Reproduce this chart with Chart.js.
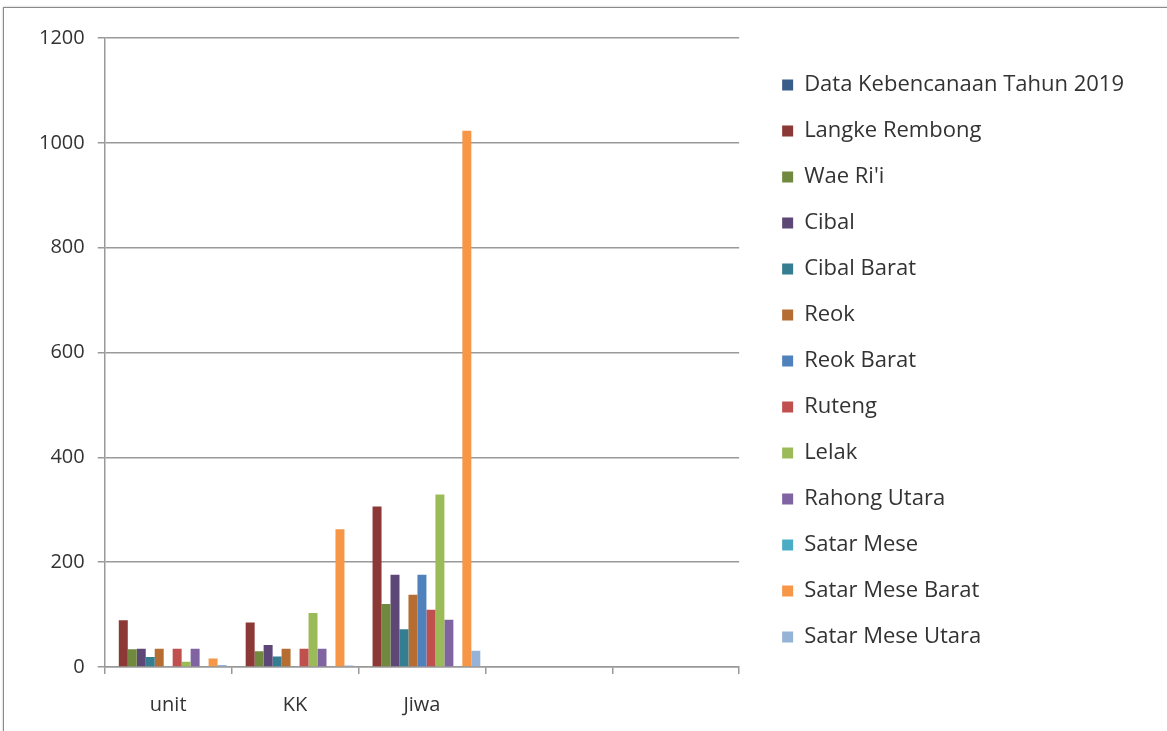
<!DOCTYPE html>
<html>
<head>
<meta charset="utf-8">
<script src="https://cdn.jsdelivr.net/npm/chart.js@4/dist/chart.umd.min.js"></script>
<style>
  html, body { margin: 0; padding: 0; background: #fff; }
  #frame { position: absolute; left: 3px; top: 7px; width: 1170px; height: 740px; border: 1px solid #8a8a8a; box-shadow: 0 0 2px #bbb; }
  #chart { position: absolute; left: 0; top: 0; }
</style>
</head>
<body>
<div id="frame"></div>
<canvas id="chart" width="1167" height="731"></canvas>
<script>
// kategori sumbu x (dua kategori terakhir kosong seperti di Excel)
const categories = ['unit', 'KK', 'Jiwa', '', ''];
const yTicks = [0, 200, 400, 600, 800, 1000, 1200];

const seriesNames = [
    'Data Kebencanaan Tahun 2019', 'Langke Rembong', "Wae Ri'i", 'Cibal', 'Cibal Barat',
    'Reok', 'Reok Barat', 'Ruteng', 'Lelak', 'Rahong Utara', 'Satar Mese',
    'Satar Mese Barat', 'Satar Mese Utara'
];

const dataKebencanaan = [0, 0, 0];
const langkeRembong = [89, 85, 306];
const waeRii = [34, 30, 120];
const cibal = [35, 42, 176];
const cibalBarat = [19, 20, 72];
const reok = [35, 35, 138];
const reokBarat = [0, 0, 176];
const ruteng = [35, 35, 109];
const lelak = [10, 103, 329];
const rahongUtara = [35, 35, 90];
const satarMese = [0, 0, 0];
const satarMeseBarat = [16, 263, 1023];
const satarMeseUtara = [4, 3, 31];

const seriesValues = [dataKebencanaan, langkeRembong, waeRii, cibal, cibalBarat, reok,
    reokBarat, ruteng, lelak, rahongUtara, satarMese, satarMeseBarat, satarMeseUtara];

const colors = ['#385D8A', '#8C3836', '#71893F', '#5C4776', '#357D91', '#B66D31',
    '#4F81BD', '#C0504D', '#9BBB59', '#8064A2', '#4BACC6', '#F79646', '#95B3D7'];

const fontFamily = "'Open Sans', sans-serif";

const ctx = document.getElementById('chart').getContext('2d');
new Chart(ctx, {
    type: 'bar',
    data: {
        labels: categories,
        datasets: seriesNames.map((name, i) => ({
            label: name,
            data: seriesValues[i],
            backgroundColor: colors[i],
            borderWidth: 0,
            categoryPercentage: 0.92,
            barPercentage: 1.0
        }))
    },
    options: {
        responsive: false,
        animation: false,
        layout: { padding: { left: 26, top: 38, right: 33, bottom: -5 } },
        plugins: {
            tooltip: { enabled: false },
            legend: {
                position: 'right',
                align: 'start',
                maxWidth: 420,
                // judul kosong hanya untuk menurunkan daftar legenda sedikit
                title: { display: true, text: ' ', padding: 0, font: { size: 12, lineHeight: 1 } },
                labels: {
                    boxWidth: 11,
                    boxHeight: 11,
                    padding: 24,
                    color: '#333',
                    font: { family: fontFamily, size: 22 }
                }
            }
        },
        scales: {
            x: {
                grid: { offset: true, drawOnChartArea: false, tickLength: 7, color: '#999', lineWidth: 1.5 },
                border: { color: '#999', width: 1.5 },
                ticks: { color: '#333', padding: 19, font: { family: fontFamily, size: 20 } }
            },
            y: {
                min: 0,
                max: 1200,
                afterBuildTicks: (scale) => { scale.ticks = yTicks.map(v => ({ value: v })); },
                grid: { color: '#999', lineWidth: 1.5, tickLength: 7 },
                border: { color: '#999', width: 1.5 },
                ticks: { color: '#333', padding: 13, font: { family: fontFamily, size: 20 }, callback: (v) => String(v) }
            },
            // sumbu kosong di kanan, hanya untuk memberi jarak ke legenda
            gap: {
                position: 'right',
                grid: { display: false },
                border: { display: false },
                ticks: { display: false },
                afterFit: (scale) => { scale.width = 19; }
            }
        }
    }
});
</script>
</body>
</html>
